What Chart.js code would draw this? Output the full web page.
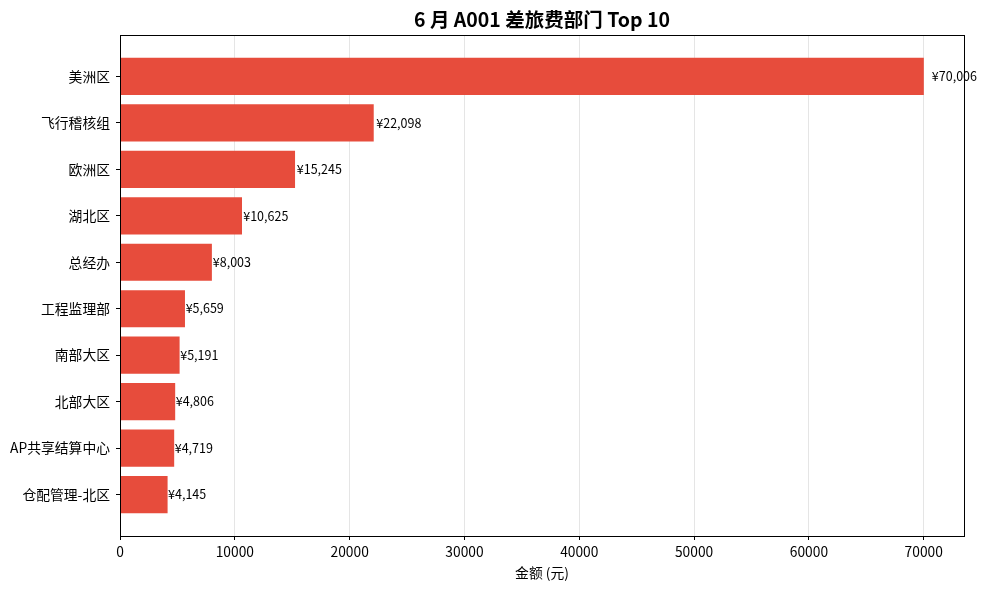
<!DOCTYPE html>
<html lang="zh">
<head>
  <meta charset="UTF-8">
  <title>6 月 A001 差旅费部门 Top 10</title>
  <script src="https://cdn.jsdelivr.net/npm/chart.js"></script>
  <style>
    html, body { margin: 0; padding: 0; background: #fff; }
    .wrap { width: 987px; height: 590px; }
  </style>
</head>
<body>
  <div class="wrap"><canvas id="chart"></canvas></div>
  <script>
    // data
    const departments = ['美洲区', '飞行稽核组', '欧洲区', '湖北区', '总经办', '工程监理部', '南部大区', '北部大区', 'AP共享结算中心', '仓配管理-北区'];
    const amounts = [70006, 22098, 15245, 10625, 8003, 5659, 5191, 4806, 4719, 4145];
    const xTicks = [0, 10000, 20000, 30000, 40000, 50000, 60000, 70000];
    const chartTitle = '6 月 A001 差旅费部门 Top 10';

    const FONT = "'Noto Sans CJK SC', 'Noto Sans', sans-serif";
    Chart.defaults.font.family = FONT;
    Chart.defaults.color = '#000';

    // box around plot area (matplotlib spines) + title centred over the plot
    const frame = {
      id: 'frame',
      afterDraw(chart) {
        const a = chart.chartArea, c = chart.ctx;
        c.save();
        c.strokeStyle = '#000';
        c.lineWidth = 1;
        c.strokeRect(Math.round(a.left) + 0.5, Math.round(a.top) + 0.5, Math.round(a.right - a.left), Math.round(a.bottom - a.top));
        c.font = 'bold 19.5px ' + FONT;
        c.fillStyle = '#000';
        c.textAlign = 'center';
        c.textBaseline = 'middle';
        c.fillText(chartTitle, (a.left + a.right) / 2, 20);
        c.restore();
      }
    };

    // value labels at bar end
    const valueLabels = {
      id: 'valueLabels',
      afterDatasetsDraw(chart) {
        const c = chart.ctx, xs = chart.scales.x;
        const meta = chart.getDatasetMeta(0);
        c.save();
        c.font = '12.5px ' + FONT;
        c.fillStyle = '#000';
        c.textAlign = 'left';
        c.textBaseline = 'middle';
        meta.data.forEach((bar, i) => {
          const v = amounts[i];
          c.fillText('¥' + v.toLocaleString('en-US'), xs.getPixelForValue(v * 1.01), bar.y);
        });
        c.restore();
      }
    };

    new Chart(document.getElementById('chart'), {
      type: 'bar',
      data: {
        datasets: [{
          data: amounts.map((v, i) => ({ x: v, y: i })),
          backgroundColor: '#e74c3c',
          borderWidth: 0,
          barPercentage: 0.8,
          categoryPercentage: 1.0
        }]
      },
      options: {
        indexAxis: 'y',
        responsive: true,
        maintainAspectRatio: false,
        animation: false,
        layout: { padding: { left: 0, right: 23, top: 35, bottom: 0 } },
        plugins: {
          legend: { display: false },
          tooltip: { enabled: false },
          title: { display: false }
        },
        scales: {
          x: {
            type: 'linear',
            min: 0,
            max: 70006 * 1.05,
            afterBuildTicks(s) { s.ticks = xTicks.map(v => ({ value: v })); },
            afterFit(s) { s.height = 54; },
            ticks: {
              font: { size: 13.8 },
              color: '#000',
              padding: 3,
              maxRotation: 0,
              callback: v => String(v)
            },
            grid: {
              color: 'rgba(170,170,170,0.3)',
              tickColor: '#000',
              tickLength: 4,
              lineWidth: 1
            },
            border: { color: '#000', width: 1 },
            title: {
              display: true,
              text: '金额 (元)',
              font: { size: 13.8 },
              color: '#000',
              padding: { top: 4, bottom: 8.5 }
            }
          },
          y: {
            type: 'linear',
            reverse: true,
            offset: false,
            min: -0.89,
            max: 9.89,
            afterBuildTicks(s) { s.ticks = departments.map((_, i) => ({ value: i })); },
            afterFit(s) { s.width = 120; },
            ticks: {
              font: { size: 13.8 },
              color: '#000',
              padding: 6,
              callback: v => departments[v]
            },
            grid: {
              offset: false,
              drawOnChartArea: false,
              tickColor: '#000',
              tickLength: 4
            },
            border: { color: '#000', width: 1 }
          }
        }
      },
      plugins: [frame, valueLabels]
    });
  </script>
</body>
</html>
